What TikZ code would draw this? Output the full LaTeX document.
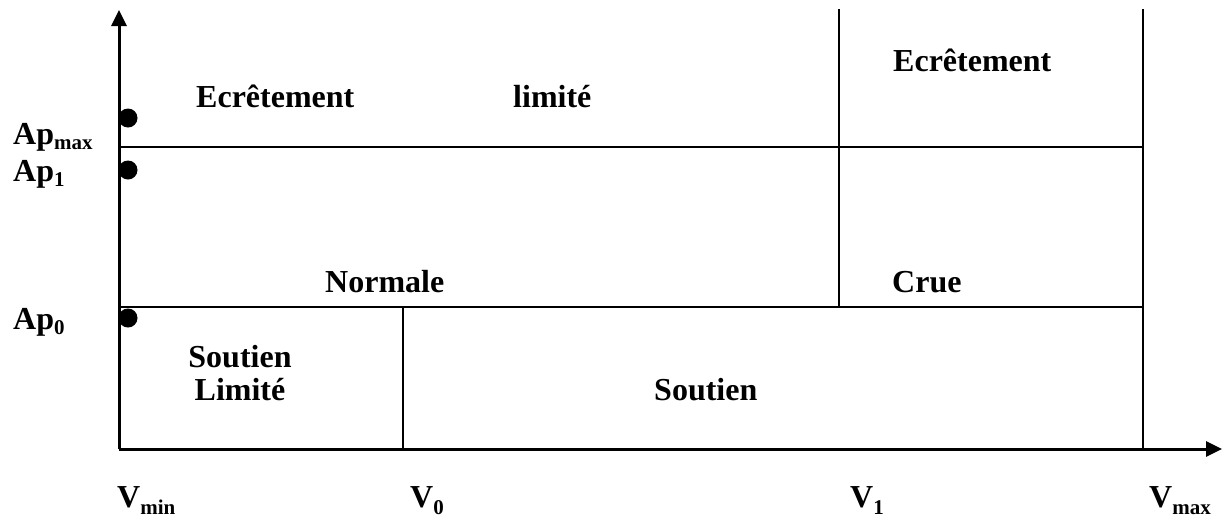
\documentclass[tikz,border=0pt]{standalone}
\usepackage{fontspec}
\setmainfont{Liberation Serif}
\usetikzlibrary{arrows.meta}
\newcommand{\sbt}[1]{\raisebox{-5pt}{\fontsize{21}{21}\selectfont #1}}
\newcommand{\sbv}[1]{\raisebox{-7pt}{\fontsize{21}{21}\selectfont #1}}
\tikzset{
  axis/.style={line width=3pt,-{Triangle[length=16pt,width=15pt]}},
  grid/.style={line width=2pt},
  lbl/.style={inner sep=0pt,anchor=base west,font=\fontsize{32}{38}\selectfont\bfseries},
  dotmark/.style={circle,fill=black,minimum size=19pt,inner sep=0pt}
}
\begin{document}
\begin{tikzpicture}[x=1pt,y=-1pt]
\useasboundingbox (0,0) rectangle (1222,520);
\coordinate (O) at (119,449);
\coordinate (ytop) at (119,10);
\coordinate (xend) at (1222,449);
\draw[axis] (O) -- (ytop);
\draw[axis] (O) -- (xend);
\coordinate (h1l) at (119,147); \coordinate (h1r) at (1143,147);
\coordinate (h0l) at (119,307); \coordinate (h0r) at (1143,307);
\coordinate (v1t) at (839,9); \coordinate (v1b) at (839,307);
\coordinate (vmt) at (1143,9); \coordinate (vmb) at (1143,449);
\coordinate (v0t) at (403,307); \coordinate (v0b) at (403,449);
\draw[grid] (h1l) -- (h1r);
\draw[grid] (h0l) -- (h0r);
\draw[grid] (v1t) -- (v1b);
\draw[grid] (vmt) -- (vmb);
\draw[grid] (v0t) -- (v0b);
\node[dotmark] (d1) at (128,118) {};
\node[dotmark] (d2) at (128,170) {};
\node[dotmark] (d3) at (128,318) {};
\node[lbl] (ecr1) at (196,107) {Ecrêtement};
\node[lbl] (lim) at (513,107) {limité};
\node[lbl] (ecr2) at (893,71) {Ecrêtement};
\node[lbl] (norm) at (325,292) {Normale};
\node[lbl] (crue) at (892,292) {Crue};
\node[lbl,anchor=base] (sl1) at (240,367) {Soutien};
\node[lbl,anchor=base] (sl2) at (240,400) {Limité};
\node[lbl] (sout) at (654,400) {Soutien};
\node[lbl] (apmax) at (13,144) {Ap\sbt{max}};
\node[lbl] (ap1) at (13,181) {Ap\sbt{1}};
\node[lbl] (ap0) at (13,329) {Ap\sbt{0}};
\node[lbl] (vmin) at (117,507) {V\sbv{min}};
\node[lbl] (v0) at (410,507) {V\sbv{0}};
\node[lbl] (vv1) at (850,507) {V\sbv{1}};
\node[lbl] (vmax) at (1149,507) {V\sbv{max}};
\end{tikzpicture}
\end{document}
